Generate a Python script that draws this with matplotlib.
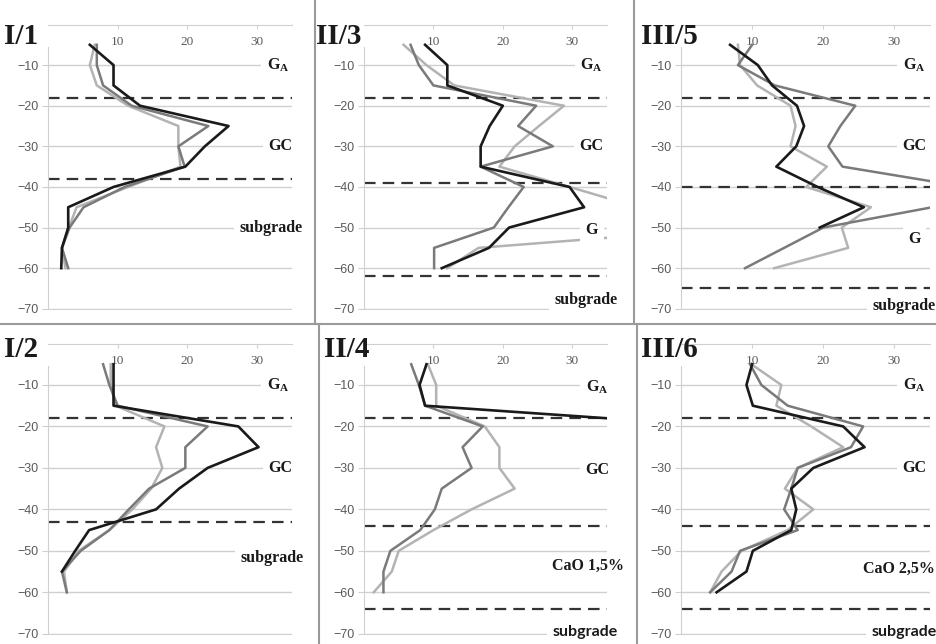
import numpy as np
import matplotlib.pyplot as plt
from matplotlib.lines import Line2D

plt.rcParams['mathtext.fontset'] = 'custom'
plt.rcParams['mathtext.bf'] = 'Liberation Serif:bold'
plt.rcParams['mathtext.rm'] = 'Liberation Serif'

nan = np.nan
depth = [-5, -10, -15, -20, -25, -30, -35, -40, -45, -50, -55, -60]

# I/1
i1_black = [6.0, 9.4, 9.4, 13.2, 25.9, 22.5, 19.7, 9.4, 2.9, 2.9, 2.0, 1.9]
i1_mid = [7.0, 7.0, 7.9, 12.0, 23.0, 18.7, 19.6, 11.0, 5.1, 3.1, 2.0, 2.9]
i1_light = [6.7, 6.0, 7.0, 11.5, 18.7, 18.7, 19.0, 11.5, 4.1, 3.0, 2.0, 2.5]
# II/3
ii3_black = [8.8, 12.0, 12.0, 20.0, 18.1, 16.8, 16.8, 29.6, 31.7, 20.9, 18.0, 11.2]
ii3_mid = [6.7, 7.9, 10.0, 24.8, 22.2, 27.2, 16.8, 23.0, 20.8, 18.7, 10.1, 10.1]
ii3_light = [5.7, 9.0, 13.0, 28.8, 25.2, 21.7, 19.5, 29.6, 39.5, 54.0, 16.5, 12.0]
# III/5
iii5_black = [6.9, 10.8, 12.8, 16.3, 17.3, 16.2, 13.4, 19.2, 25.7, 19.5, nan, nan]
iii5_mid = [10.0, 8.0, 13.2, 24.5, 22.4, 20.7, 22.7, 40.0, 35.3, 20.0, 14.5, 9.0]
iii5_light = [8.0, 8.3, 10.7, 15.4, 16.1, 15.4, 20.5, 17.6, 26.7, 22.6, 23.5, 13.1]
# I/2
i2_black = [9.4, 9.4, 9.4, 27.3, 30.2, 22.9, 18.8, 15.5, 5.9, 3.9, 2.0, nan]
i2_mid = [7.9, 8.8, 10.0, 22.9, 19.7, 19.7, 14.5, 11.6, 8.8, 4.7, 2.0, 2.7]
i2_light = [9.0, 9.0, 9.7, 16.7, 15.5, 16.4, 14.8, 12.1, 8.8, 4.4, 2.3, 2.7]
# II/4
ii4_black = [9.0, 8.0, 8.8, 52.0, nan, nan, nan, nan, nan, nan, nan, nan]
ii4_mid = [6.8, 7.9, 8.8, 17.1, 14.2, 15.5, 11.2, 10.2, 8.1, 3.8, 2.8, 2.8]
ii4_light = [9.2, 10.4, 10.4, 17.4, 19.5, 19.5, 21.7, 15.5, 10.0, 5.0, 4.0, 1.4]
# III/6
iii6_black = [10.0, 9.2, 10.1, 22.8, 25.8, 18.6, 15.5, 16.2, 15.5, 10.1, 9.2, 5.0]
iii6_mid = [9.7, 11.3, 15.0, 25.6, 23.9, 16.4, 15.5, 14.5, 16.4, 8.3, 7.1, 4.1]
iii6_light = [9.9, 14.1, 13.4, 18.3, 22.8, 16.4, 14.6, 18.6, 15.0, 8.5, 5.7, 4.1]

titles = ['I/1', 'II/3', 'III/5', 'I/2', 'II/4', 'III/6']
boundaries = [[-18, -38], [-18, -39, -62], [-18, -40, -65],
              [-18, -43], [-18, -44, -64], [-18, -44, -64]]
ga = r'$\mathbf{G}_{\mathbf{A}}$'
layer_labels = [
    [(ga, 33.0, -10, 'serif'), ('GC', 33.3, -30, 'serif'), ('subgrade', 32.0, -50, 'serif')],
    [(ga, 32.8, -10, 'serif'), ('GC', 32.8, -30, 'serif'), ('G', 32.8, -50.5, 'serif'),
     ('subgrade', 32.0, -67.8, 'serif')],
    [(ga, 32.8, -10, 'serif'), ('GC', 32.8, -30, 'serif'), ('G', 32.8, -52.7, 'serif'),
     ('subgrade', 31.4, -69.2, 'serif')],
    [(ga, 33.0, -10, 'serif'), ('GC', 33.3, -30, 'serif'), ('subgrade', 32.1, -51.7, 'serif')],
    [(ga, 33.6, -10.5, 'serif'), ('GC', 33.6, -30.5, 'serif'), ('CaO 1,5%', 32.3, -53.7, 'serif'),
     ('subgrade', 31.8, -69.6, 'sans')],
    [(ga, 32.8, -10, 'serif'), ('GC', 32.8, -30, 'serif'), ('CaO 2,5%', 30.7, -54.4, 'serif'),
     ('subgrade', 31.4, -69.6, 'sans')],
]
series = [
    (i1_black, i1_mid, i1_light), (ii3_black, ii3_mid, ii3_light),
    (iii5_black, iii5_mid, iii5_light), (i2_black, i2_mid, i2_light),
    (ii4_black, ii4_mid, ii4_light), (iii6_black, iii6_mid, iii6_light),
]

W, H = 937, 644
fig = plt.figure(figsize=(W / 100, H / 100), dpi=100)

# axes boxes in pixels: left, top, width, height
col_x = [(48, 244), (364, 243), (681, 249)]
row_y = [(24.5, 285.5), (343.5, 291.5)]
title_xy = [(4, 23), (316, 23), (641, 23), (4, 336), (324, 336), (641, 336)]

c_black, c_mid, c_light = '#1a1a1a', '#7a7a7a', '#b3b3b3'
grid_c = '#d0d0d0'

for k in range(6):
    r, c = divmod(k, 3)
    x0, w = col_x[c]
    y0, h = row_y[r]
    ax = fig.add_axes([x0 / W, 1 - (y0 + h) / H, w / W, h / H])
    ax.set_xlim(0, 35)
    ax.set_ylim(-70.3, 0)
    for s in ['right', 'bottom']:
        ax.spines[s].set_visible(False)
    ax.spines['top'].set_color(grid_c)
    ax.spines['left'].set_color(grid_c)
    ax.spines['left'].set_bounds(-70, -5.5)
    ax.set_xticks([10, 20, 30])
    ax.set_yticks([-10, -20, -30, -40, -50, -60, -70])
    ax.xaxis.set_ticks_position('top')
    ax.tick_params(axis='x', direction='in', length=3, color=grid_c, pad=-17,
                   labelsize=9.5, labelcolor='#5a5a5a')
    ax.tick_params(axis='y', direction='out', length=4, color=grid_c, pad=3,
                   labelsize=9, labelcolor='#5a5a5a')
    for lab in ax.get_xticklabels():
        lab.set_fontfamily('Liberation Serif')
    for lab in ax.get_yticklabels():
        lab.set_fontfamily('Liberation Sans')
    ax.grid(axis='y', color=grid_c, lw=1)
    ax.set_axisbelow(True)

    for yb in boundaries[k]:
        ax.axhline(yb, color='#333333', lw=1.6, dashes=(5.2, 3.2), zorder=2)

    blk, mid, lgt = series[k]
    ax.plot(lgt, depth, color=c_light, lw=1.8, zorder=3)
    ax.plot(mid, depth, color=c_mid, lw=1.8, zorder=3)
    ax.plot(blk, depth, color=c_black, lw=1.9, zorder=3)

    for txt, tx, ty, fam in layer_labels[k]:
        family = 'Liberation Serif' if fam == 'serif' else 'Lato'
        ax.text(tx, ty, txt, ha='center', va='center', fontsize=11.5,
                fontweight='bold', family=family, color='#1a1a1a', zorder=5,
                clip_on=False,
                bbox=dict(facecolor='white', edgecolor='none', pad=4))

    tx, ty = title_xy[k]
    fig.text(tx / W, 1 - ty / H, titles[k], ha='left', va='top', fontsize=21,
             fontweight='bold', family='Liberation Serif', color='#1a1a1a')

# panel dividers
div_c = '#9a9a9a'
fig.add_artist(Line2D([315 / W, 315 / W], [1, 1 - 324 / H], color=div_c, lw=1.5,
                      transform=fig.transFigure))
fig.add_artist(Line2D([319 / W, 319 / W], [1 - 324 / H, 0], color=div_c, lw=1.5,
                      transform=fig.transFigure))
fig.add_artist(Line2D([634 / W, 634 / W], [1, 1 - 324 / H], color=div_c, lw=1.5,
                      transform=fig.transFigure))
fig.add_artist(Line2D([637 / W, 637 / W], [1 - 324 / H, 0], color=div_c, lw=1.5,
                      transform=fig.transFigure))
fig.add_artist(Line2D([0, 1], [1 - 324 / H, 1 - 324 / H], color=div_c, lw=1.5,
                      transform=fig.transFigure))

fig.savefig('out.png', dpi=100)
